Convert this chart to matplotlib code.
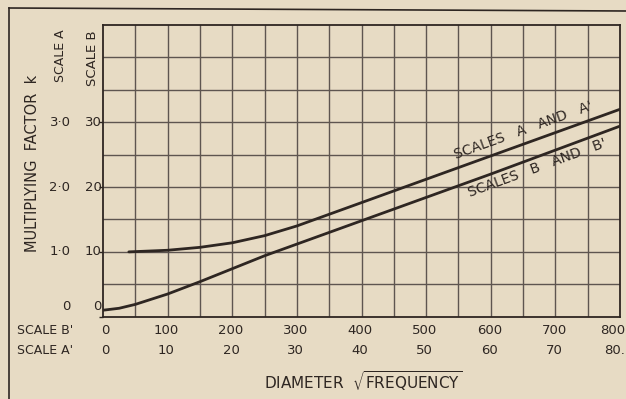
import numpy as np
import matplotlib
matplotlib.use("Agg")
import matplotlib.pyplot as plt
import matplotlib.transforms as mtransforms

plt.rcParams['font.family'] = ['DejaVu Sans']
plt.rcParams['mathtext.fontset'] = 'dejavusans'

# ---- data ----
x_upper = [40, 100, 150, 200, 250, 300, 350, 400, 500, 600, 700, 800]
y_upper = [10.0, 10.25, 10.7, 11.4, 12.5, 14.0, 15.8, 17.6, 21.2, 24.8, 28.4, 32.0]
x_lower = [0, 25, 50, 100, 150, 200, 250, 300, 400, 500, 600, 700, 800]
y_lower = [1.0, 1.3, 1.9, 3.5, 5.4, 7.4, 9.4, 11.2, 14.8, 18.4, 22.0, 25.7, 29.4]

x_ticks = [0, 100, 200, 300, 400, 500, 600, 700, 800]
x_labels_b = ['0', '100', '200', '300', '400', '500', '600', '700', '800']
x_labels_a = ['0', '10', '20', '30', '40', '50', '60', '70', '80.']
y_ticks = [0, 10, 20, 30]
y_labels_b = ['0', '10', '20', '30']
y_labels_a = ['0', '1·0', '2·0', '3·0']

label_upper = "SCALES   A   AND   A'"
label_lower = "SCALES   B   AND   B'"

BG = '#e7dbc4'
INK = '#2e2622'
GRID = '#5e5550'

fig = plt.figure(figsize=(6.26, 3.99), dpi=100, facecolor=BG)
ax = fig.add_axes([103/626, 1-316.7/399, (620-103)/626, (316.7-25)/399])
ax.set_facecolor(BG)
ax.set_xlim(0, 800)
ax.set_ylim(0, 45)

# grid
for gx in np.arange(50, 800, 50):
    ax.axvline(gx, color=GRID, lw=1.0, zorder=1)
for gy in np.arange(5, 45, 5):
    ax.axhline(gy, color=GRID, lw=1.0, zorder=1)
for s in ax.spines.values():
    s.set_color(INK)
    s.set_linewidth(1.3)

# curves
ax.plot(x_upper, y_upper, color=INK, lw=2.0, zorder=3, solid_capstyle='round')
ax.plot(x_lower, y_lower, color=INK, lw=2.0, zorder=3, solid_capstyle='round')

ax.set_xticks([])
ax.set_yticks(y_ticks)
ax.set_yticklabels([])
ax.tick_params(axis='y', length=3, color=INK, width=1.0)

fs = 9.5
trans_y = mtransforms.blended_transform_factory(fig.transFigure, ax.transData)
for yt, la, lb in zip(y_ticks, y_labels_a, y_labels_b):
    off = 1.6 if yt == 0 else 0
    xa = 66 if yt == 0 else 60
    xb = 97 if yt == 0 else 93
    ax.text(xa/626, yt + off, la, transform=trans_y, ha='center', va='center',
            fontsize=fs, color=INK)
    ax.text(xb/626, yt + off, lb, transform=trans_y, ha='center', va='center',
            fontsize=fs, color=INK)

fig.text(60/626, 1-56/399, 'SCALE A', rotation=90, ha='center', va='center',
         fontsize=fs - 0.5, color=INK)
fig.text(92/626, 1-58/399, 'SCALE B', rotation=90, ha='center', va='center',
         fontsize=fs, color=INK)
fig.text(33/626, 1-163/399, 'MULTIPLYING  FACTOR  k', rotation=90, ha='center',
         va='center', fontsize=10.5, color=INK)

trans_x = mtransforms.blended_transform_factory(ax.transData, fig.transFigure)
for xt, lb, la in zip(x_ticks, x_labels_b, x_labels_a):
    dx = 4 if xt == 0 else -2
    ha = 'center'
    if xt == x_ticks[-1]:
        dx = 8
        ha = 'right'
    ax.text(xt + dx, 1-330/399, lb, transform=trans_x, ha=ha, va='center',
            fontsize=fs, color=INK)
    ax.text(xt + dx, 1-350/399, la, transform=trans_x, ha=ha, va='center',
            fontsize=fs, color=INK)
fig.text(17/626, 1-330/399, "SCALE B'", ha='left', va='center', fontsize=fs - 0.5, color=INK)
fig.text(17/626, 1-350/399, "SCALE A'", ha='left', va='center', fontsize=fs - 0.5, color=INK)
fig.text(363/626, 1-381/399, r'DIAMETER  $\sqrt{\mathrm{FREQUENCY}}$', ha='center',
         va='center', fontsize=11, color=INK)

# curve labels, rotated along the lines
fig.canvas.draw()
def angle_of(xs, ys, x0, x1):
    p0 = ax.transData.transform((x0, np.interp(x0, xs, ys)))
    p1 = ax.transData.transform((x1, np.interp(x1, xs, ys)))
    return np.degrees(np.arctan2(p1[1]-p0[1], p1[0]-p0[0]))

ang_u = angle_of(x_upper, y_upper, 500, 800)
ang_l = angle_of(x_lower, y_lower, 500, 800)
xu = 650
ax.text(xu, np.interp(xu, x_upper, y_upper) + 2.2, label_upper, rotation=ang_u,
        rotation_mode='anchor', ha='center', va='center', fontsize=10, color=INK, zorder=4)
xl = 672
ax.text(xl, np.interp(xl, x_lower, y_lower) - 1.7, label_lower, rotation=ang_l,
        rotation_mode='anchor', ha='center', va='center', fontsize=10, color=INK, zorder=4)

# outer frame (left and top edges)
fig.add_artist(plt.Line2D([9/626, 9/626], [0, 1-8/399], transform=fig.transFigure,
                          color=INK, lw=1.2))
fig.add_artist(plt.Line2D([9/626, 1], [1-8/399, 1-11/399], transform=fig.transFigure,
                          color=INK, lw=1.2))

fig.savefig('out.png', dpi=100, facecolor=BG)
